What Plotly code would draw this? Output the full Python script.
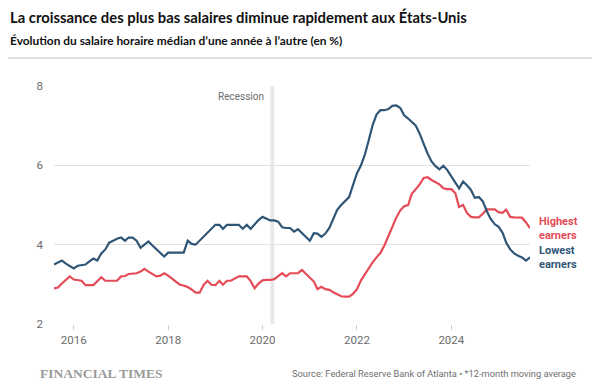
import pandas as pd
import plotly.graph_objects as go

# Monthly data, Aug 2015 -> Sep 2025 (12-month moving average, %)
start_month = "2015-08-01"
lowest_earners = [
    3.50, 3.55, 3.60, 3.52, 3.46, 3.40, 3.47, 3.49, 3.50, 3.58, 3.65, 3.60,
    3.78, 3.88, 4.05, 4.10, 4.15, 4.18, 4.10, 4.18, 4.18, 4.10, 3.92, 4.00,
    4.08, 3.98, 3.88, 3.78, 3.70, 3.80, 3.80, 3.80, 3.80, 3.80, 4.10, 4.02,
    4.00, 4.10, 4.20, 4.30, 4.40, 4.50, 4.50, 4.40, 4.50, 4.50, 4.50, 4.50,
    4.40, 4.50, 4.40, 4.52, 4.62, 4.70, 4.65, 4.61, 4.61, 4.58, 4.44, 4.42,
    4.42, 4.33, 4.39, 4.30, 4.20, 4.10, 4.29, 4.28, 4.20, 4.28, 4.42, 4.67,
    4.88, 5.00, 5.10, 5.20, 5.50, 5.80, 6.00, 6.25, 6.62, 7.00, 7.28, 7.39,
    7.39, 7.42, 7.50, 7.51, 7.45, 7.26, 7.18, 7.10, 7.00, 6.80, 6.52, 6.30,
    6.10, 5.98, 5.90, 5.99, 5.88, 5.72, 5.55, 5.42, 5.59, 5.50, 5.38, 5.18,
    5.20, 5.09, 4.85, 4.65, 4.52, 4.45, 4.30, 4.05, 3.88, 3.78, 3.72, 3.68,
    3.60, 3.68,
]
highest_earners = [
    2.90, 2.92, 3.02, 3.11, 3.20, 3.12, 3.10, 3.09, 2.98, 2.98, 2.98, 3.08,
    3.18, 3.09, 3.09, 3.09, 3.09, 3.20, 3.21, 3.26, 3.28, 3.28, 3.32, 3.39,
    3.32, 3.26, 3.20, 3.22, 3.28, 3.22, 3.14, 3.08, 2.99, 2.97, 2.93, 2.87,
    2.79, 2.79, 2.98, 3.09, 2.99, 2.98, 3.09, 2.99, 3.09, 3.09, 3.15, 3.20,
    3.20, 3.20, 3.08, 2.90, 3.02, 3.10, 3.11, 3.11, 3.13, 3.21, 3.28, 3.20,
    3.28, 3.28, 3.28, 3.36, 3.26, 3.16, 3.07, 2.88, 2.94, 2.88, 2.86, 2.80,
    2.75, 2.70, 2.69, 2.69, 2.76, 2.88, 3.10, 3.25, 3.40, 3.55, 3.68, 3.79,
    3.98, 4.22, 4.48, 4.68, 4.86, 4.97, 5.00, 5.28, 5.40, 5.52, 5.68, 5.70,
    5.63, 5.58, 5.52, 5.42, 5.40, 5.40, 5.30, 4.95, 5.00, 4.80, 4.70, 4.69,
    4.69, 4.78, 4.89, 4.89, 4.89, 4.82, 4.80, 4.88, 4.70, 4.69, 4.69, 4.68,
    4.56, 4.42,
]
dates = pd.date_range(start_month, periods=len(lowest_earners), freq="MS")

y_ticks = [2, 4, 6, 8]
x_tick_years = ["2016-01-01", "2018-01-01", "2020-01-01", "2022-01-01", "2024-01-01"]
x_tick_labels = ["2016", "2018", "2020", "2022", "2024"]
recession = ("2020-03-01", "2020-04-01")

BLUE = "#2f5677"
RED = "#e54b57"
GRID = "#e3e0dd"
TXT = "#6b6b6b"

fig = go.Figure()
fig.add_trace(go.Scatter(x=dates, y=highest_earners, mode="lines",
                         line=dict(color=RED, width=2.2), name="Highest earners",
                         hoverinfo="x+y"))
fig.add_trace(go.Scatter(x=dates, y=lowest_earners, mode="lines",
                         line=dict(color=BLUE, width=2.2), name="Lowest earners",
                         hoverinfo="x+y"))

font_txt = "Roboto, Arial, sans-serif"

annotations = [
    dict(text="<b>La croissance des plus bas salaires diminue rapidement aux États-Unis</b>",
         xref="paper", yref="paper", x=-0.0966, y=1.290, xanchor="left", yanchor="middle",
         showarrow=False, font=dict(family="Lato, sans-serif", size=14.8, color="#111111")),
    dict(text="<b>Évolution du salaire horaire médian d’une année à l’autre (en %)</b>",
         xref="paper", yref="paper", x=-0.0966, y=1.193, xanchor="left", yanchor="middle",
         showarrow=False, font=dict(family="Lato, sans-serif", size=11.9, color="#111111")),
    dict(text="Recession", xref="x", yref="paper", x=recession[0], y=0.955,
         xanchor="right", yanchor="middle", xshift=-4, showarrow=False,
         font=dict(family=font_txt, size=10, color=TXT)),
    dict(text="<b>Highest<br>earners</b>", xref="paper", yref="y", x=1.0, y=4.40,
         xanchor="left", yanchor="middle", xshift=7, showarrow=False, align="left",
         font=dict(family=font_txt, size=11, color=RED)),
    dict(text="<b>Lowest<br>earners</b>", xref="paper", yref="y", x=1.0, y=3.68,
         xanchor="left", yanchor="middle", xshift=7, showarrow=False, align="left",
         font=dict(family=font_txt, size=11, color=BLUE)),
    dict(text="<b>FINANCIAL TIMES</b>", xref="paper", yref="paper", x=-0.0336, y=-0.206,
         xanchor="left", yanchor="middle", showarrow=False,
         font=dict(family="Liberation Serif, serif", size=13.5, color="#9a9a9a")),
    dict(text="Source: Federal Reserve Bank of Atlanta • *12-month moving average",
         xref="paper", yref="paper", x=1.1008, y=-0.206, xanchor="right", yanchor="middle",
         showarrow=False, font=dict(family=font_txt, size=9.3, color="#707070")),
]

shapes = [
    dict(type="rect", xref="x", yref="paper", x0=recession[0], x1=recession[1],
         y0=0, y1=1, fillcolor="#e9e9e9", line=dict(width=0), layer="below"),
    dict(type="line", xref="paper", yref="paper", x0=-0.12, x1=1.18, y0=1.1176, y1=1.1176,
         line=dict(color="#d4d4d4", width=1.5)),
]

fig.update_layout(
    width=600, height=390,
    margin=dict(l=46, r=78, t=78, b=74),
    paper_bgcolor="white", plot_bgcolor="white",
    showlegend=False,
    annotations=annotations,
    shapes=shapes,
    xaxis=dict(
        range=["2015-08-01", "2025-09-01"],
        tickvals=x_tick_years, ticktext=x_tick_labels,
        ticks="outside", ticklen=5, tickcolor="#cfcfcf", tickwidth=1,
        showgrid=False, zeroline=False, showline=False,
        tickfont=dict(family=font_txt, size=11.5, color=TXT),
    ),
    yaxis=dict(
        range=[2, 8], tickvals=y_ticks,
        showgrid=True, gridcolor=GRID, gridwidth=1,
        zeroline=False, showline=False,
        ticks="", ticklabelstandoff=10,
        tickfont=dict(family=font_txt, size=11.5, color=TXT),
    ),
)

fig.write_html("out.html")
